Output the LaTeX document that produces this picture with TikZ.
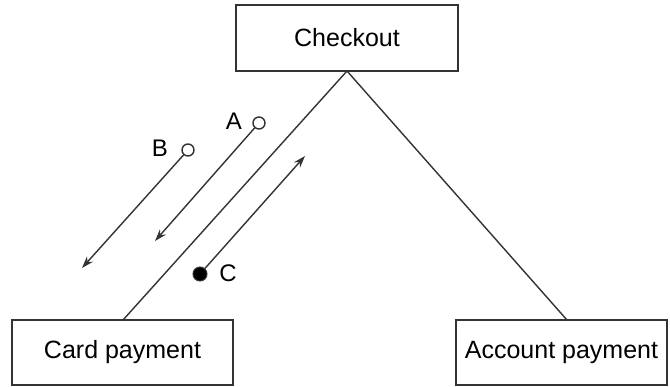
\documentclass[tikz,border=0pt]{standalone}
\usepackage{fontspec}
\setmainfont{Liberation Sans}
\usetikzlibrary{arrows.meta}
\definecolor{ink}{HTML}{333333}
\tikzset{
  box/.style={draw=ink, line width=1.5pt, fill=white, inner sep=0pt, font=\fontsize{25}{29}\selectfont},
  link/.style={draw=ink, line width=1.4pt},
  flow/.style={draw=ink, line width=1.4pt, -{Stealth[length=12pt,width=8pt]}},
  lbl/.style={font=\fontsize{24}{28}\selectfont, inner sep=0pt},
  opendot/.style={circle, draw=ink, fill=white, line width=1.4pt, minimum size=12pt, inner sep=0pt},
  fulldot/.style={circle, draw=ink, fill=black, line width=1pt, minimum size=14pt, inner sep=0pt}
}
\begin{document}
\begin{tikzpicture}[x=1pt,y=-1pt]
\useasboundingbox (0,0) rectangle (670,387);
\node[box, minimum width=222pt, minimum height=66pt] (checkout) at (347,38) {Checkout};
\node[box, minimum width=221pt, minimum height=65pt] (card) at (122.5,352.5) {Card payment};
\node[box, minimum width=211pt, minimum height=65pt] (account) at (561.5,352.5) {Account payment};
\coordinate (top) at (347,71);
\coordinate (ct) at (123,320);
\coordinate (at) at (567,320);
\draw[link] (top) -- (ct);
\draw[link] (top) -- (at);
% A
\node[opendot] (adot) at (259,123) {};
\node[lbl] (alab) at (234,121) {A};
\coordinate (atip) at (155,241);
\draw[flow] (adot) -- (atip);
% B
\node[opendot] (bdot) at (188,150) {};
\node[lbl] (blab) at (160,148) {B};
\coordinate (btip) at (82,268);
\draw[flow] (bdot) -- (btip);
% C
\node[fulldot] (cdot) at (200,274) {};
\node[lbl] (clab) at (228,273) {C};
\coordinate (ctip) at (305,156);
\draw[flow] (cdot) -- (ctip);
\end{tikzpicture}
\end{document}
